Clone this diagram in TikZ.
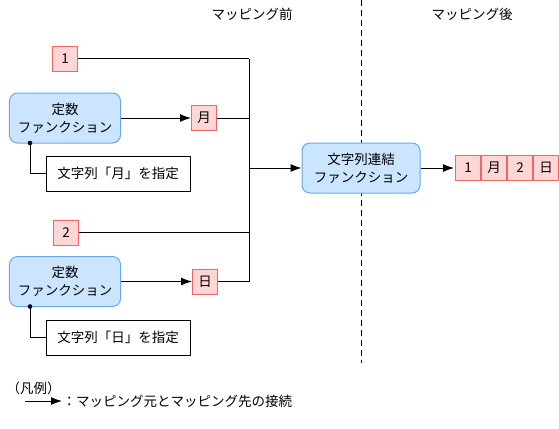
\documentclass[tikz,border=0pt]{standalone}
\usepackage{fontspec}
\setmainfont{Noto Sans CJK JP}
\usetikzlibrary{arrows.meta,positioning}

\definecolor{funcfill}{HTML}{CCE5FF}
\definecolor{funcline}{HTML}{66AAEE}
\definecolor{valfill}{HTML}{FFD6D6}
\definecolor{valline}{HTML}{EE6666}

\tikzset{
	func/.style={draw=funcline, fill=funcfill, rounded corners=8bp, minimum width=111bp, minimum height=50bp, align=center, inner sep=0pt},
	val/.style={draw=valline, fill=valfill, minimum size=25bp, inner sep=0pt},
	note/.style={draw, minimum width=144bp, minimum height=35bp, inner sep=0pt},
	map/.style={-{Latex[length=11bp,width=8bp]}},
}

\begin{document}
\begin{tikzpicture}[x=1bp,y=-1bp, font=\fontsize{13.5bp}{18bp}\selectfont, line width=1bp]
	\useasboundingbox (0,0) rectangle (559,428);

	% headings and the border between them
	\node (before) at (252,14) {マッピング前};
	\node (after)  at (472,14) {マッピング後};
	\draw [dash pattern=on 6bp off 4bp, line width=0.9bp] (361,0) -- (361,363);

	% source side
	\node (one)   at (65,58.5)  [val]  {1};
	\node (func1) at (65,118)   [func] {定数\\ファンクション};
	\node (tsuki) at (204,118)  [val]  {月};
	\node (note1) at (118,173.5) [note] {文字列「月」を指定};

	\node (two)   at (66,232.5) [val]  {2};
	\node (func2) at (65,281.5) [func] {定数\\ファンクション};
	\node (nichi) at (205,281.5) [val]  {日};
	\node (note2) at (118,337.5) [note] {文字列「日」を指定};

	\coordinate (pin1) at (30,143);
	\coordinate (pin2) at (30,306.5);
	\coordinate (bustop) at (249,58.5);
	\coordinate (busbot) at (249,281.5);

	% target side
	\node (concat) at (361,168) [func, minimum width=118bp] {文字列連結\\ファンクション};
	\node (out1) at (468,168) [val] {1};
	\node (out2) [val, right=0pt of out1] {月};
	\node (out3) [val, right=0pt of out2] {2};
	\node (out4) [val, right=0pt of out3] {日};

	% connections
	\draw [map] (func1) to (tsuki);
	\draw [map] (func2) to (nichi);
	\draw (pin1) |- (note1.west);
	\draw (pin2) |- (note2.west);
	\fill (pin1) circle (2.3bp);
	\fill (pin2) circle (2.3bp);

	\draw (one) to (bustop);
	\draw (bustop) to (busbot);
	\draw (tsuki) to (tsuki -| bustop);
	\draw (two) to (two -| bustop);
	\draw (nichi) to (busbot);
	\draw [map] (concat.west -| bustop) to (concat.west);
	\draw [map, shorten >=1bp] (concat) to (out1);

	% legend
	\node (legend) at (6,388) [anchor=west, inner sep=0pt] {（凡例）};
	\coordinate (keyA) at (25,401);
	\coordinate (keyB) at (62,401);
	\draw [map] (keyA) to (keyB);
	\node (keytext) at (62,401) [anchor=west, inner sep=0pt] {：マッピング元とマッピング先の接続};
\end{tikzpicture}
\end{document}
